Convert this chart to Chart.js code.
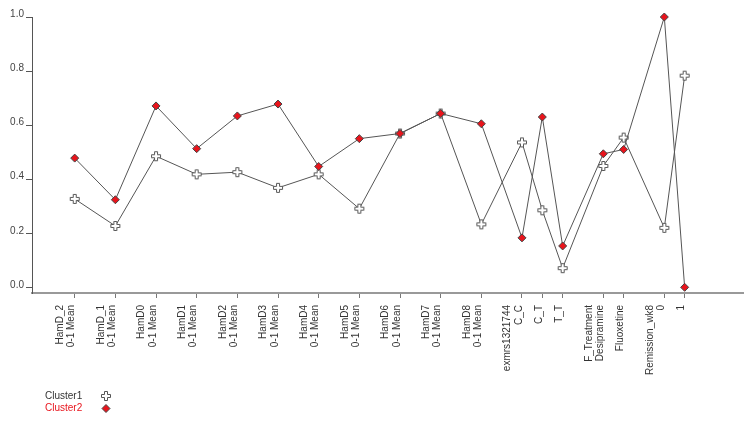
<!DOCTYPE html>
<html>
<head>
<meta charset="utf-8">
<script src="https://cdn.jsdelivr.net/npm/chart.js@4"></script>
<style>
  body { margin: 0; background: #fff; }
  #wrap { width: 754px; height: 423px; position: relative; }
</style>
</head>
<body>
<div id="wrap"><canvas id="myChart"></canvas></div>
<script>
// group label (first line) and level (second line) for each x category
const groups = ["HamD_2", "HamD_1", "HamD0", "HamD1", "HamD2", "HamD3", "HamD4", "HamD5", "HamD6", "HamD7", "HamD8",
  "exmrs1321744", "exmrs1321744", "exmrs1321744", "F_Treatment", "F_Treatment", "Remission_wk8", "Remission_wk8"];
const levels = ["0-1 Mean", "0-1 Mean", "0-1 Mean", "0-1 Mean", "0-1 Mean", "0-1 Mean", "0-1 Mean", "0-1 Mean", "0-1 Mean", "0-1 Mean", "0-1 Mean",
  "C_C", "C_T", "T_T", "Desipramine", "Fluoxetine", "0", "1"];

const cluster1 = [0.327, 0.227, 0.485, 0.418, 0.426, 0.368, 0.418, 0.291, 0.569, 0.643, 0.233,
  0.536, 0.285, 0.071, 0.449, 0.554, 0.220, 0.783];
const cluster2 = [0.478, 0.324, 0.671, 0.513, 0.634, 0.678, 0.447, 0.550, 0.569, 0.643, 0.605,
  0.183, 0.630, 0.153, 0.494, 0.510, 1.000, 0.000];

const yTicks = [0, 0.2, 0.4, 0.6, 0.8, 1.0];

// x position: items of the same group sit one step apart, new groups two steps
const xPos = [];
const tickLabels = [];
groups.forEach((g, i) => {
  if (i === 0) xPos.push(0);
  else xPos.push(xPos[i - 1] + (g === groups[i - 1] ? 1 : 2));
  const first = (i === 0 || g !== groups[i - 1]) && g !== levels[i] ? g : "";
  tickLabels.push([first, levels[i]]);
});

// outlined plus marker
const plus = document.createElement("canvas");
plus.width = 12; plus.height = 12;
(function () {
  const c = plus.getContext("2d");
  const m = 6, a = 1.5, L = 4.5;
  c.beginPath();
  c.moveTo(m - a, m - L); c.lineTo(m + a, m - L); c.lineTo(m + a, m - a); c.lineTo(m + L, m - a);
  c.lineTo(m + L, m + a); c.lineTo(m + a, m + a); c.lineTo(m + a, m + L); c.lineTo(m - a, m + L);
  c.lineTo(m - a, m + a); c.lineTo(m - L, m + a); c.lineTo(m - L, m - a); c.lineTo(m - a, m - a);
  c.closePath();
  c.fillStyle = "#fff";
  c.fill();
  c.strokeStyle = "#555";
  c.lineWidth = 1;
  c.stroke();
})();

const RED = "#e8141c";
const FONT = "'Liberation Sans', Arial, sans-serif";

const legendPlugin = {
  id: "sideLegend",
  afterDraw(chart) {
    const ctx = chart.ctx;
    ctx.save();
    ctx.font = "10px " + FONT;
    ctx.textBaseline = "middle";
    ctx.textAlign = "left";
    ctx.fillStyle = "#333";
    ctx.fillText("Cluster1", 45, 396);
    ctx.fillStyle = RED;
    ctx.fillText("Cluster2", 45, 408.5);
    ctx.drawImage(plus, 100, 390);
    ctx.beginPath();
    ctx.moveTo(106, 404.5); ctx.lineTo(110, 408.5); ctx.lineTo(106, 412.5); ctx.lineTo(102, 408.5);
    ctx.closePath();
    ctx.fillStyle = RED;
    ctx.fill();
    ctx.strokeStyle = "#444";
    ctx.lineWidth = 1;
    ctx.stroke();
    ctx.restore();
  }
};

const ctx1 = document.getElementById("myChart");
new Chart(ctx1, {
  type: "line",
  data: {
    datasets: [
      {
        label: "Cluster1",
        data: cluster1.map((v, i) => ({ x: xPos[i], y: v })),
        borderColor: "#555",
        borderWidth: 1,
        pointStyle: plus,
        pointRadius: 5,
        clip: false,
        order: 2,
      },
      {
        label: "Cluster2",
        data: cluster2.map((v, i) => ({ x: xPos[i], y: v })),
        borderColor: "#555",
        borderWidth: 1,
        pointStyle: "rectRot",
        pointRadius: 4,
        pointBackgroundColor: RED,
        pointBorderColor: "#444",
        pointBorderWidth: 1,
        clip: false,
        order: 1,
      },
    ],
  },
  options: {
    responsive: true,
    maintainAspectRatio: false,
    animation: false,
    layout: { padding: { top: 17, right: 11, bottom: 0, left: 0 } },
    plugins: { legend: { display: false }, tooltip: { enabled: false } },
    scales: {
      x: {
        type: "linear",
        min: -2.1,
        max: 32.87,
        afterBuildTicks: (scale) => { scale.ticks = xPos.map((v) => ({ value: v })); },
        afterFit: (scale) => { scale.height = 130; },
        grid: { drawOnChartArea: false, drawTicks: true, tickLength: 5, color: "#777" },
        border: { color: "#999", width: 2 },
        ticks: {
          autoSkip: false,
          minRotation: 90,
          maxRotation: 90,
          padding: 7,
          labelOffset: -14.4,
          color: "#333",
          font: { family: FONT, size: 10, lineHeight: 1.14 },
          callback: (value, index) => tickLabels[index],
        },
      },
      y: {
        min: -0.021,
        max: 1.0,
        afterBuildTicks: (scale) => { scale.ticks = yTicks.map((v) => ({ value: v })); },
        afterFit: (scale) => { scale.width = 32; },
        grid: { drawOnChartArea: false, drawTicks: true, tickLength: 6, color: "#555" },
        border: { color: "#555", width: 1 },
        ticks: {
          padding: 2,
          labelOffset: -2.5,
          color: "#444",
          font: { family: FONT, size: 10 },
          callback: (value) => value.toFixed(1),
        },
      },
    },
  },
  plugins: [legendPlugin],
});
</script>
</body>
</html>
